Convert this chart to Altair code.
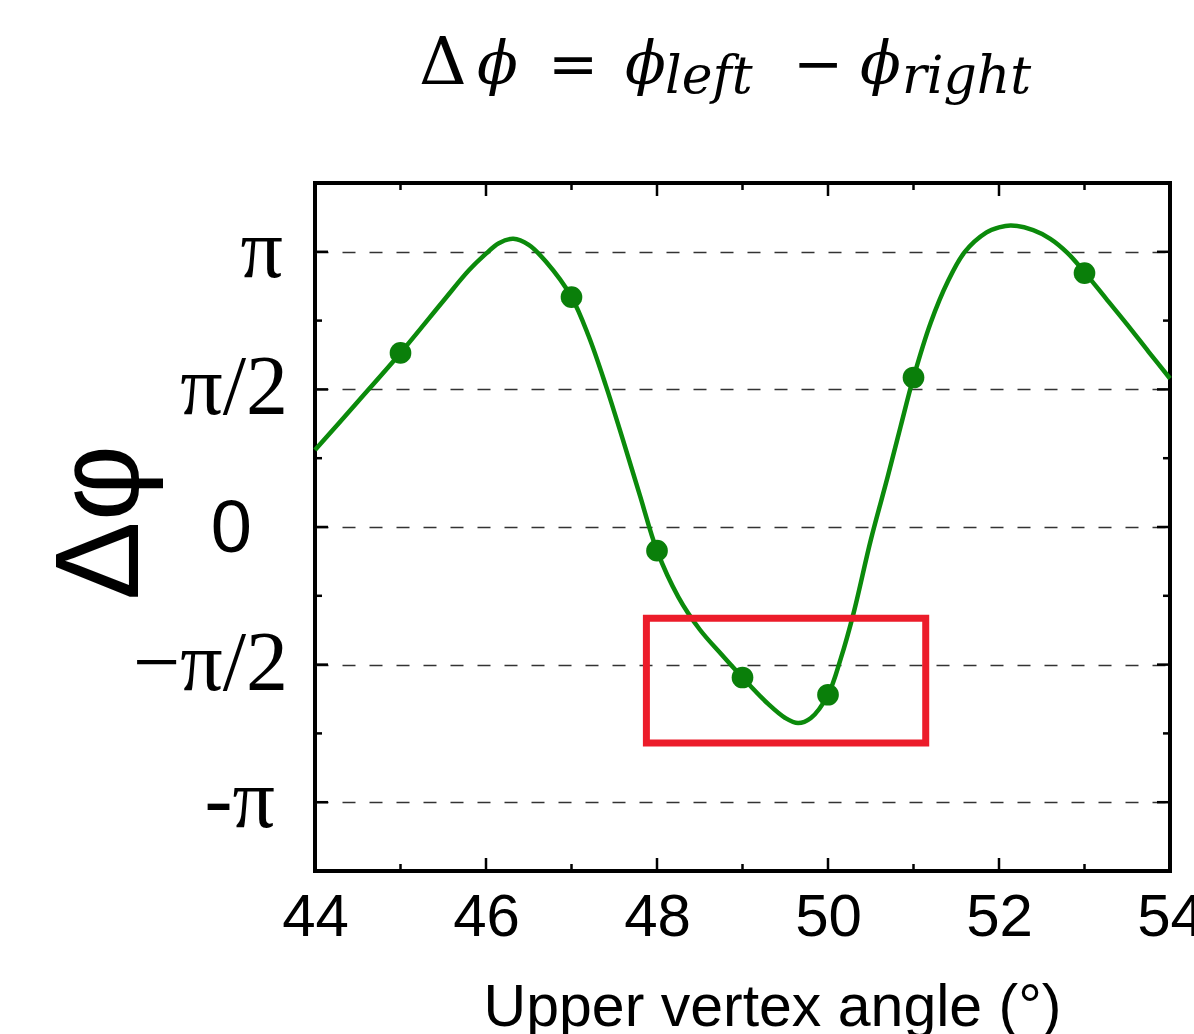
import math
import altair as alt
import pandas as pd

PI = math.pi

# ---- data ----
curve_x = [44.0, 44.5, 45.0, 45.5, 45.8, 46.0, 46.15, 46.32, 46.5, 46.7, 47.0, 47.2, 47.4, 47.6,
           47.8, 48.0, 48.25, 48.5, 48.75, 49.0, 49.3, 49.5, 49.65, 49.8, 50.0, 50.15, 50.3,
           50.5, 50.7, 50.85, 51.0, 51.2, 51.4, 51.6, 51.85, 52.0, 52.14, 52.4, 52.6, 52.8,
           53.0, 53.25, 53.5, 53.75, 54.0]
curve_y = [0.878, 1.43, 1.987, 2.58, 2.93, 3.12, 3.24, 3.29, 3.22, 3.03, 2.625, 2.18, 1.62, 1.0,
           0.36, -0.27, -0.80, -1.17, -1.45, -1.718, -2.02, -2.18, -2.238, -2.18, -1.915, -1.50, -0.98,
           -0.15, 0.58, 1.15, 1.707, 2.33, 2.80, 3.14, 3.36, 3.42, 3.443, 3.39, 3.29, 3.13,
           2.91, 2.61, 2.31, 2.00, 1.695]

point_x = [45, 47, 48, 49, 50, 51, 53]
point_y = [1.987, 2.625, -0.270, -1.718, -1.915, 1.707, 2.899]

box_x1 = [47.876]
box_x2 = [51.143]
box_y1 = [-1.041]
box_y2 = [-2.466]

x_major = [44, 46, 48, 50, 52, 54]
x_minor = [45, 47, 49, 51, 53]
y_major = [-PI, -PI / 2, 0.0, PI / 2, PI]
y_labels = ["-π", "−π/2", "0", "π/2", "π"]
y_minor = [-3 * PI / 4, -PI / 4, PI / 4, 3 * PI / 4]

W, H = 855, 688
GREEN = "#0b8a0b"

xs = alt.Scale(domain=[44, 54], nice=False, zero=False)
ys = alt.Scale(domain=[-1.25 * PI, 1.25 * PI], nice=False, zero=False)

curve_df = pd.DataFrame({"x": curve_x, "y": curve_y})
pts_df = pd.DataFrame({"x": point_x, "y": point_y})
box_df = pd.DataFrame({"x": box_x1, "x2": box_x2, "y": box_y1, "y2": box_y2})
ylab_df = pd.DataFrame({"y": y_major, "t": y_labels})

x_axis = alt.Axis(values=x_major, format="d", labelFont="Liberation Sans", labelFontSize=60,
                  labelColor="black", labelBaseline="alphabetic", labelPadding=64,
                  labelFlush=False, labelOverlap=False, ticks=False, tickSize=0,
                  domain=False, grid=False,
                  title="Upper vertex angle (°)", titleFont="Liberation Sans",
                  titleFontSize=59, titleFontWeight="normal", titleColor="black",
                  titleX=457, titleY=154, titleBaseline="alphabetic", titleAlign="center")

y_axis = alt.Axis(values=y_major, labels=False, ticks=False, tickSize=0, domain=False,
                  grid=True, gridDash=[13, 14], gridColor="#333333", gridWidth=1.3,
                  title="Δφ", titleFont="Liberation Sans", titleFontSize=118,
                  titleFontWeight="normal", titleColor="black", titleAngle=270,
                  titleX=-178, titleY=339, titleAlign="center", titleBaseline="alphabetic")


def X(field="x"):
    return alt.X(f"{field}:Q", scale=xs, axis=x_axis)


def Y(field="y"):
    return alt.Y(f"{field}:Q", scale=ys, axis=y_axis)


curve = alt.Chart(curve_df).mark_line(color=GREEN, strokeWidth=4.5, interpolate="catmull-rom").encode(
    x=X(), y=Y())

points = alt.Chart(pts_df).mark_circle(color="#0a7f0a", opacity=1, size=470).encode(
    x=X(), y=Y())

box = alt.Chart(box_df).mark_rect(filled=False, stroke="#ec1c2a", strokeWidth=7).encode(
    x=X(), x2="x2:Q", y=Y(), y2="y2:Q")


def xticks(vals, length):
    df = pd.DataFrame({"x": vals})
    bottom = alt.Chart(df).mark_rule(color="black", strokeWidth=2.5).encode(
        x=X(), y=alt.value(H), y2=alt.value(H - length))
    top = alt.Chart(df).mark_rule(color="black", strokeWidth=2.5).encode(
        x=X(), y=alt.value(0), y2=alt.value(length))
    return [bottom, top]


def yticks(vals, length):
    df = pd.DataFrame({"y": vals})
    left = alt.Chart(df).mark_rule(color="black", strokeWidth=2.5).encode(
        y=Y(), x=alt.value(0), x2=alt.value(length))
    right = alt.Chart(df).mark_rule(color="black", strokeWidth=2.5).encode(
        y=Y(), x=alt.value(W), x2=alt.value(W - length))
    return [left, right]


# y tick labels, drawn as text through the y scale (right edges as in the reference)
label_style = {
    "π": ("Liberation Serif", 84, -32, 0),
    "π/2": ("Liberation Serif", 84, -27, 0),
    "0": ("Liberation Sans", 74, -63, 3),
    "−π/2": ("Liberation Serif", 84, -27, 0),
    "-π": ("Liberation Serif", 84, -40, 0),
}
ylabel_layers = []
for lab, (font, size, xpos, dy) in label_style.items():
    ylabel_layers.append(
        alt.Chart(ylab_df).transform_filter(alt.datum.t == lab).mark_text(
            font=font, fontSize=size, align="right", baseline="middle", color="black", dy=dy
        ).encode(y=Y(), x=alt.value(xpos), text="t:N")
    )

one = pd.DataFrame({"k": [0]})


def txt(s, x, y, size, font="DejaVu Serif", style="normal"):
    return alt.Chart(one).mark_text(text=s, font=font, fontSize=size, fontStyle=style,
                                    align="left", baseline="alphabetic", color="black").encode(
        x=alt.value(x), y=alt.value(y))


BASE = 84 - 183
SUB = 93 - 183
title_parts = [
    txt("Δ", 104, BASE, 66),
    txt("ϕ", 162, BASE, 60, style="italic"),
    txt("=", 233, BASE, 60),
    txt("ϕ", 310, BASE, 60, style="italic"),
    txt("left", 350, SUB, 52, style="italic"),
    txt("−", 478, BASE, 60),
    txt("ϕ", 545, BASE, 60, style="italic"),
    txt("right", 587, SUB, 52, style="italic"),
]

layers = [curve, box, points] + xticks(x_major, 13) + xticks(x_minor, 7) + \
    yticks(y_major, 13) + yticks(y_minor, 7) + ylabel_layers + title_parts

chart = alt.layer(*layers).properties(
    width=W, height=H,
    autosize=alt.AutoSizeParams(type="none"),
    padding={"left": 315, "top": 183, "right": 24, "bottom": 163},
    background="white",
).configure_view(stroke="black", strokeWidth=4)

chart.save("out.html", embed_options={"renderer": "svg", "actions": False})
